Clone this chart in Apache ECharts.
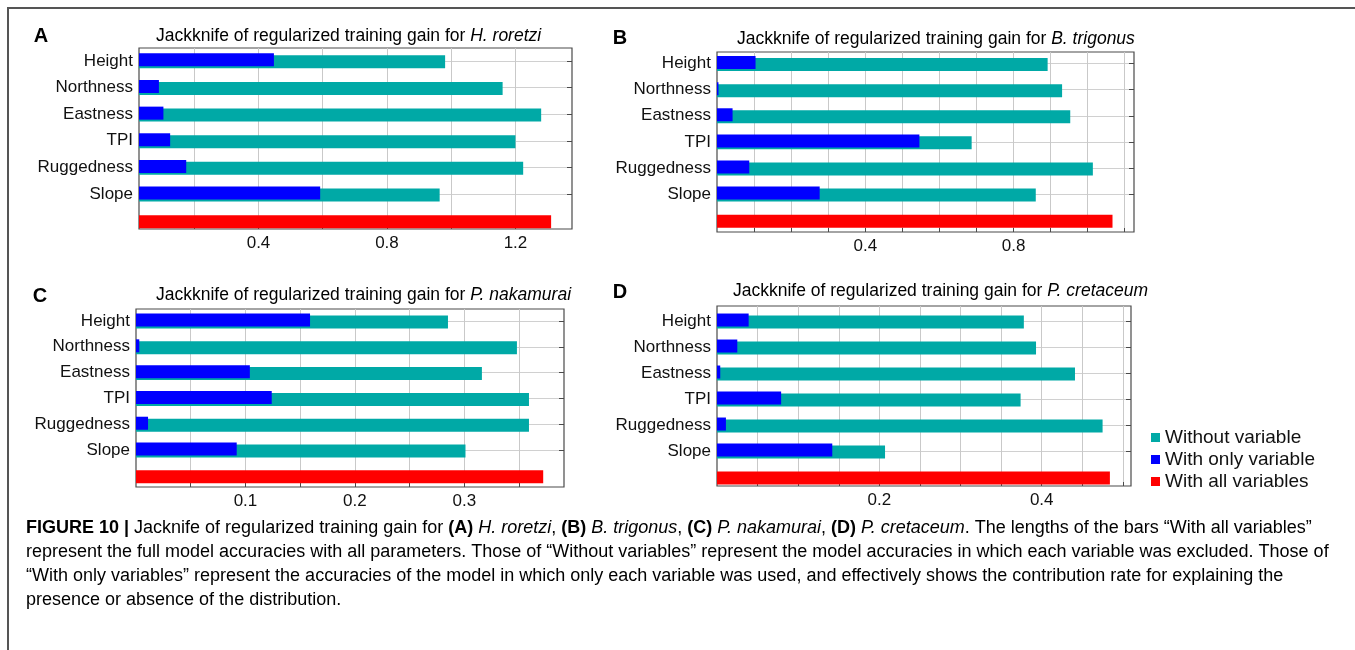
<!DOCTYPE html>
<html>
<head>
<meta charset="utf-8">
<script src="https://cdn.jsdelivr.net/npm/echarts@6/dist/echarts.min.js"></script>
<style>
  html, body { margin: 0; padding: 0; background: #fff; }
  #chart { width: 1355px; height: 650px; }
</style>
</head>
<body>
<div id="chart"></div>
<script>
// Environmental variables tested in the jackknife (top to bottom)
const categories = ['Height', 'Northness', 'Eastness', 'TPI', 'Ruggedness', 'Slope'];

// (A) H. roretzi
const withoutA = [0.981, 1.160, 1.280, 1.200, 1.224, 0.964];
const onlyA    = [0.448, 0.090, 0.104, 0.125, 0.175, 0.592];
const allA     = 1.311;
// (B) B. trigonus
const withoutB = [0.892, 0.931, 0.953, 0.687, 1.014, 0.860];
const onlyB    = [0.104, 0.004, 0.042, 0.546, 0.087, 0.277];
const allB     = 1.067;
// (C) P. nakamurai
const withoutC = [0.285, 0.348, 0.316, 0.359, 0.359, 0.301];
const onlyC    = [0.159, 0.003, 0.104, 0.124, 0.011, 0.092];
const allC     = 0.372;
// (D) P. cretaceum
const withoutD = [0.378, 0.393, 0.441, 0.374, 0.475, 0.207];
const onlyD    = [0.039, 0.025, 0.004, 0.079, 0.011, 0.142];
const allD     = 0.484;

// Gridline positions and labelled ticks of each gain axis
const gridTicksA = [0.2, 0.4, 0.6, 0.8, 1.0, 1.2];
const tickLabelsA = [0.4, 0.8, 1.2];
const gridTicksB = [0.1, 0.2, 0.3, 0.4, 0.5, 0.6, 0.7, 0.8, 0.9, 1.0, 1.1];
const tickLabelsB = [0.4, 0.8];
const gridTicksC = [0.05, 0.1, 0.15, 0.2, 0.25, 0.3, 0.35];
const tickLabelsC = [0.1, 0.2, 0.3];
const gridTicksD = [0.05, 0.1, 0.15, 0.2, 0.25, 0.3, 0.35, 0.4, 0.45, 0.5];
const tickLabelsD = [0.2, 0.4];

const speciesNames = ['H. roretzi', 'B. trigonus', 'P. nakamurai', 'P. cretaceum'];
const panelLetters = ['A', 'B', 'C', 'D'];
const seriesNames = ['Without variable', 'With only variable', 'With all variables'];

const TEAL = '#00a9a6', BLUE = '#0000ff', RED = '#ff0000';
const FONT = '"Liberation Sans", Arial, sans-serif';

// frame: plotting box with gain axis; rows: band that holds the seven bar rows
const panels = [
  { without: withoutA, only: onlyA, all: allA, grid: gridTicksA, labels: tickLabelsA,
    min: 0.028, max: 1.376,
    frame: { left: 139, top: 48, width: 433, height: 181 },
    rows: { left: 139, top: 47.5, width: 433, height: 186.5 },
    title: { x: 156, y: 36 }, letter: { x: 41, y: 36 } },
  { without: withoutB, only: onlyB, all: allB, grid: gridTicksB, labels: tickLabelsB,
    min: 0, max: 1.125,
    frame: { left: 717, top: 52, width: 417, height: 180 },
    rows: { left: 717, top: 50.5, width: 417, height: 182.7 },
    title: { x: 737, y: 39 }, letter: { x: 620, y: 38 } },
  { without: withoutC, only: onlyC, all: allC, grid: gridTicksC, labels: tickLabelsC,
    min: 0, max: 0.391,
    frame: { left: 136, top: 309, width: 428, height: 178 },
    rows: { left: 136, top: 308.1, width: 428, height: 180.6 },
    title: { x: 156, y: 295 }, letter: { x: 40, y: 296 } },
  { without: withoutD, only: onlyD, all: allD, grid: gridTicksD, labels: tickLabelsD,
    min: 0, max: 0.51,
    frame: { left: 717, top: 306, width: 414, height: 180 },
    rows: { left: 717, top: 308, width: 414, height: 182 },
    title: { x: 733, y: 291 }, letter: { x: 620, y: 292 } }
];

const rowNames = categories.concat(['']);
// Variable rows get a gridline and a right-hand tick; the full-model row does not
const variableRow = function (index) { return index < categories.length; };
const grids = [], xAxes = [], yAxes = [], series = [], graphics = [];

panels.forEach(function (p, i) {
  const gFrame = 2 * i, gRows = 2 * i + 1;
  grids.push(Object.assign({ show: true, borderColor: '#4a4a4a', borderWidth: 1.2,
                             backgroundColor: '#fff' }, p.frame));
  grids.push(Object.assign({ show: false }, p.rows));

  // gain axis with vertical gridlines
  xAxes.push({
    type: 'value', gridIndex: gFrame, min: p.min, max: p.max,
    axisLine: { show: false },
    axisTick: { show: true, inside: true, length: 4, customValues: p.grid,
                lineStyle: { color: '#4a4a4a' } },
    axisLabel: { customValues: p.labels, color: '#111', fontSize: 17, fontFamily: FONT,
                 margin: 6, formatter: function (v) { return String(+v.toFixed(2)); } },
    splitLine: { show: true, lineStyle: { color: '#c9c9c9', width: 1 } }
  });
  yAxes.push({ type: 'value', gridIndex: gFrame, show: false, min: 0, max: 1,
               splitLine: { show: false } });

  // same gain scale for the bars
  xAxes.push({ type: 'value', gridIndex: gRows, min: p.min, max: p.max, show: false,
               splitLine: { show: false } });
  // left: variable names, with gridlines through each row
  yAxes.push({
    type: 'category', gridIndex: gRows, data: rowNames, inverse: true,
    axisLine: { show: false }, axisTick: { show: false },
    axisLabel: { color: '#111', fontSize: 17, fontFamily: FONT, margin: 6 },
    splitLine: { show: true, alignWithLabel: true, interval: variableRow,
                 lineStyle: { color: '#d0d0d0', width: 1 } }
  });
  // right: tick marks only
  yAxes.push({
    type: 'category', gridIndex: gRows, data: rowNames, inverse: true, position: 'right',
    axisLine: { show: false },
    axisTick: { show: true, inside: true, length: 5, alignWithLabel: true,
                interval: variableRow, lineStyle: { color: '#4a4a4a' } },
    axisLabel: { show: false }, splitLine: { show: false }
  });

  const xIdx = 2 * i + 1;      // bar gain axis
  const yIdx = 3 * i + 1;      // variable-name axis
  const blank = '-';
  series.push({
    name: seriesNames[1], type: 'bar', xAxisIndex: xIdx, yAxisIndex: yIdx,
    data: p.only.concat([blank]), barWidth: 13, barGap: '-85%', z: 4,
    itemStyle: { color: BLUE }, stack: 'only' + i
  });
  series.push({
    name: seriesNames[0], type: 'bar', xAxisIndex: xIdx, yAxisIndex: yIdx,
    data: p.without.concat([blank]), barWidth: 13, barGap: '-85%', z: 3,
    itemStyle: { color: TEAL }, stack: 'gain' + i
  });
  series.push({
    name: seriesNames[2], type: 'bar', xAxisIndex: xIdx, yAxisIndex: yIdx,
    data: categories.map(function () { return blank; }).concat([p.all]),
    barWidth: 13, barGap: '-85%', z: 3,
    itemStyle: { color: RED }, stack: 'gain' + i
  });

  graphics.push({
    type: 'text', x: p.letter.x, y: p.letter.y,
    style: { text: panelLetters[i], font: 'bold 20px ' + FONT, fill: '#000',
             align: 'center', verticalAlign: 'middle' }
  });
  graphics.push({
    type: 'text', x: p.title.x, y: p.title.y,
    style: {
      text: '{n|Jackknife of regularized training gain for }{i|' + speciesNames[i] + '}',
      verticalAlign: 'middle', align: 'left',
      rich: {
        n: { fontSize: 17.5, fontFamily: FONT, color: '#111' },
        i: { fontSize: 17.5, fontFamily: FONT, color: '#111', fontStyle: 'italic' }
      }
    }
  });
});

// Figure caption
const captionRich = {
  t: { fontSize: 18, fontFamily: FONT, color: '#3c3c3c' },
  b: { fontSize: 18, fontFamily: FONT, color: '#1a1a1a', fontWeight: 'bold' },
  i: { fontSize: 18, fontFamily: FONT, color: '#3c3c3c', fontStyle: 'italic' }
};
const captionLines = [
  '{b|FIGURE 10 |}{t| Jacknife of regularized training gain for }{b|(A)}{t| }{i|H. roretzi}{t|, }{b|(B)}{t| }{i|B. trigonus}{t|, }{b|(C)}{t| }{i|P. nakamurai}{t|, }{b|(D)}{t| }{i|P. cretaceum}{t|. The lengths of the bars \u201cWith all variables\u201d}',
  '{t|represent the full model accuracies with all parameters. Those of \u201cWithout variables\u201d represent the model accuracies in which each variable was excluded. Those of}',
  '{t|\u201cWith only variables\u201d represent the accuracies of the model in which only each variable was used, and effectively shows the contribution rate for explaining the}',
  '{t|presence or absence of the distribution.}'
];
captionLines.forEach(function (line, k) {
  graphics.push({
    type: 'text', x: 26, y: 528 + 24 * k,
    style: { text: line, rich: captionRich, verticalAlign: 'middle', align: 'left' }
  });
});

// Outer figure frame
graphics.push({
  type: 'rect', z: -1,
  shape: { x: 8, y: 8, width: 1400, height: 700 },
  style: { fill: 'none', stroke: '#555', lineWidth: 2 }
});

const chart = echarts.init(document.getElementById('chart'), null, { renderer: 'canvas' });
chart.setOption({
  animation: false,
  backgroundColor: '#fff',
  grid: grids,
  xAxis: xAxes,
  yAxis: yAxes,
  legend: {
    data: seriesNames, orient: 'vertical', left: 1146, top: 423,
    icon: 'rect', itemWidth: 9, itemHeight: 9, itemGap: 3,
    textStyle: { fontSize: 19, fontFamily: FONT, color: '#111', padding: [0, 0, 0, 0] },
    selectedMode: false
  },
  series: series,
  graphic: graphics
});
</script>
</body>
</html>
